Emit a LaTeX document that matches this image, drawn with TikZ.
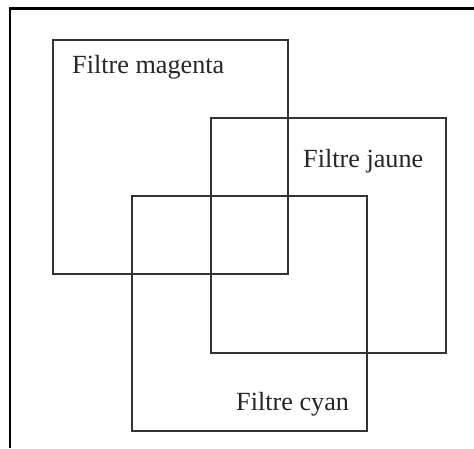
\documentclass[tikz,border=0pt]{standalone}
\usepackage{fontspec}
\setmainfont{Liberation Serif}
\begin{document}
\begin{tikzpicture}[x=1pt,y=-1pt,
  sq/.style={draw=black!80,line width=1.8pt},
  lbl/.style={anchor=base west,inner sep=0pt,text=black!85,font=\fontsize{26.2}{30}\selectfont}]
\useasboundingbox (0,0) rectangle (474,448);
\fill[white] (0,0) rectangle (474,448);
\draw[line width=2.8pt,black] (10,448) -- (10,8.5) -- (474,8.5);
\draw[sq] (53,40) rectangle (288,274);
\draw[sq] (211,118) rectangle (446,353);
\draw[sq] (132,196) rectangle (367,431);
\node[lbl] (m) at (72,73) {Filtre magenta};
\node[lbl] (j) at (303,167) {Filtre jaune};
\node[lbl] (c) at (236,410) {Filtre cyan};
\end{tikzpicture}
\end{document}
